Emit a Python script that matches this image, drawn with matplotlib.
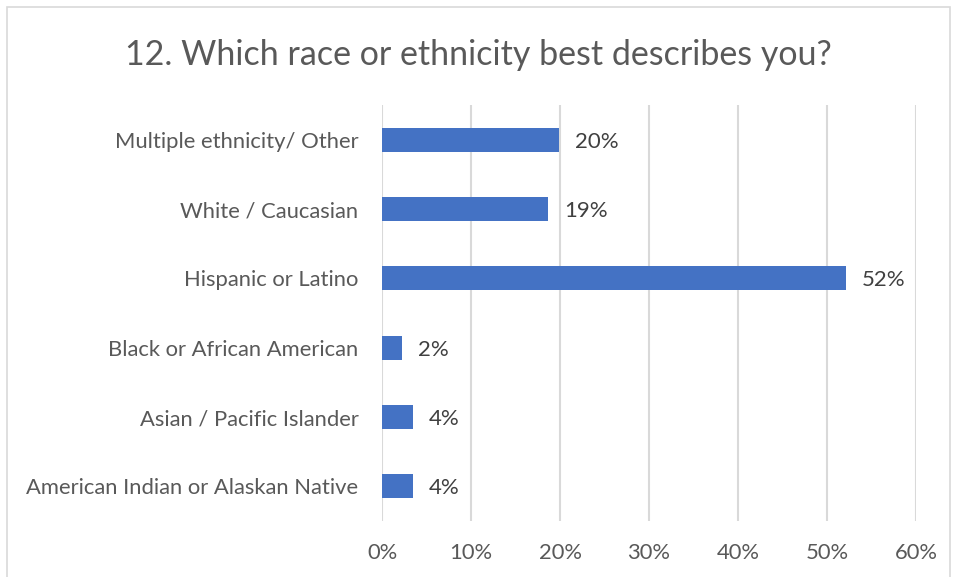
import matplotlib
matplotlib.use("Agg")
import matplotlib.pyplot as plt
from matplotlib.patches import Rectangle

plt.rcParams['font.family'] = ['Lato', 'DejaVu Sans']

# survey answers, bottom to top as drawn
categories = ["American Indian or Alaskan Native",
              "Asian / Pacific Islander",
              "Black or African American",
              "Hispanic or Latino",
              "White / Caucasian",
              "Multiple ethnicity/ Other"]
shares = [3.5, 3.5, 2.2, 52.1, 18.7, 19.9]
xticks = [0, 10, 20, 30, 40, 50, 60]

text_col = "#595959"
bar_col = "#4472C4"
grid_col = "#D9D9D9"

fig = plt.figure(figsize=(9.56, 5.77), dpi=100)
ax = fig.add_axes([382/956, 1-521/577, (916-382)/956, (521-105)/577])

# light frame round the whole chart
fig.patches.append(Rectangle((7/956, -0.01), (950-7)/956, 1-7/577 + 0.01,
                             transform=fig.transFigure, fill=False,
                             edgecolor="#D9D9D9", linewidth=1.2))

ypos = range(len(categories))
ax.barh(ypos, shares, height=0.35, color=bar_col, zorder=3)

for y, v in zip(ypos, shares):
    ax.annotate(f"{v:.0f}%", (v, y), xytext=(16, -2), textcoords="offset pixels",
                va="center", ha="left", fontsize=16, color="#404040")

ax.set_xlim(0, 60)
ax.set_ylim(-0.5, 5.5)
ax.set_xticks(xticks)
ax.set_xticklabels([f"{t}%" for t in xticks])
ax.set_yticks(list(ypos))
ax.set_yticklabels(categories)
ax.tick_params(axis="both", length=0, labelsize=15.8, labelcolor=text_col)
ax.tick_params(axis="y", pad=17)
ax.tick_params(axis="x", pad=16)
ax.xaxis.grid(True, color=grid_col, linewidth=1.5, zorder=0)
for s in ax.spines.values():
    s.set_visible(False)

fig.text(0.5, 1-55/577, "12. Which race or ethnicity best describes you?",
         ha="center", va="center", fontsize=24.5, color=text_col)

fig.savefig("out.png", dpi=100)
